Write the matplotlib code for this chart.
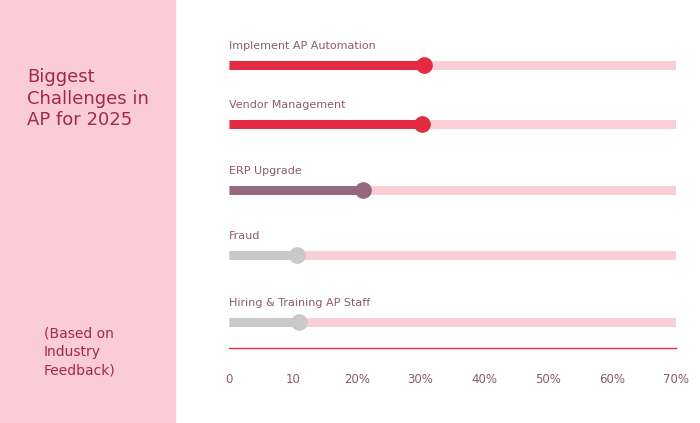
import matplotlib.pyplot as plt
import matplotlib.patches as mpatches

# data
challenges = ["Implement AP Automation", "Vendor Management", "ERP Upgrade",
              "Fraud", "Hiring & Training AP Staff"]
values = [30.5, 30.2, 21.0, 10.6, 11.0]
colors = ["#e32b44", "#e32b44", "#94697f", "#c9c9c9", "#c9c9c9"]
tick_vals = [0, 10, 20, 30, 40, 50, 60, 70]
tick_labels = ["0", "10", "20%", "30%", "40%", "50%", "60%", "70%"]

track = "#f9cfd4"
text_col = "#8c5a6c"

fig = plt.figure(figsize=(7, 4.23), dpi=100)
fig.patches.append(mpatches.Rectangle((0, 0), 175 / 700, 1, transform=fig.transFigure,
                                      color="#f9cdd3", zorder=0))
fig.text(27 / 700, 1 - 68 / 423, "Biggest\nChallenges in\nAP for 2025", fontsize=13,
         color="#a3284a", va="top", ha="left", linespacing=1.25)
fig.text(44 / 700, 1 - 326 / 423, "(Based on\nIndustry\nFeedback)", fontsize=10,
         color="#a3284a", va="top", ha="left", linespacing=1.45)

ax = fig.add_axes([229 / 700, 1 - 348 / 423, (676 - 229) / 700, (348 - 30) / 423])
ax.set_xlim(0, 70)
ax.set_ylim(348, 30)

# vertical pixel rows for each bar (layout only)
rows = [65, 124, 190, 255, 322]
for name, v, c, y in zip(challenges, values, colors, rows):
    ax.plot([0, 70], [y, y], color=track, lw=6.5, solid_capstyle="butt", zorder=1)
    ax.plot([0, v], [y, y], color=c, lw=6.5, solid_capstyle="butt", zorder=2)
    ax.plot(v, y, "o", color=c, ms=11, zorder=3)
    ax.text(0, y - 14, name, fontsize=8, color=text_col, va="bottom", ha="left")

for s in ["top", "right", "left"]:
    ax.spines[s].set_visible(False)
ax.spines["bottom"].set_color("#e32b44")
ax.spines["bottom"].set_linewidth(1)
ax.set_yticks([])
ax.set_xticks(tick_vals)
ax.set_xticklabels(tick_labels)
ax.tick_params(axis="x", length=0, pad=18, labelsize=8.5, labelcolor=text_col)
ax.patch.set_alpha(0)

fig.savefig("out.png", dpi=100)
